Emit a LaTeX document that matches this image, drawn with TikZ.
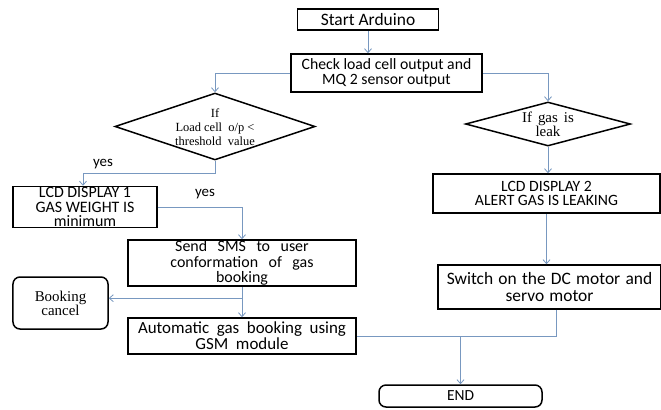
\documentclass[tikz,border=0pt]{standalone}
\usepackage{fontspec}
\setmainfont{Carlito}
\newfontfamily\serifx{Liberation Serif}
\usetikzlibrary{arrows.meta,shapes.geometric,calc}
\definecolor{conncol}{RGB}{120,152,192}
\newcommand\wsA{\spaceskip 0.66em\relax}
\newcommand\wsB{\spaceskip 0.45em\relax}
\newcommand\wsC{\spaceskip 0.3em\relax}
\newcommand\wsD{\spaceskip 0.4em\relax}
\tikzset{
 box/.style={draw, line width=1.5bp, align=center, inner sep=0pt, font=\fontsize{16}{15}\selectfont},
 rbox/.style={box, rounded corners=7bp},
 dia/.style={diamond, draw, line width=1.5bp, inner sep=0pt},
 dtext/.style={align=center, inner sep=0pt, font=\serifx\fontsize{12.5}{14}\selectfont},
 conn/.style={draw=conncol, line width=0.8bp},
 arr/.style={conn, -{Straight Barb[length=4bp,width=7bp]}},
 lbl/.style={inner sep=0pt, font=\fontsize{15}{15}\selectfont},
}
\begin{document}
\begin{tikzpicture}[x=1bp,y=-1bp]
\fill[white] (0,0) rectangle (661,409);
\useasboundingbox (0,0) rectangle (661,409);
\node[box, minimum width=141bp, minimum height=21bp, font=\fontsize{17.5}{16}\selectfont] (start) at (368,19.5) {Start Arduino};
\node[box, minimum width=191bp, minimum height=38bp, font=\fontsize{15.8}{15}\selectfont] (check) at (386.5,73) {Check load cell output and\\MQ 2 sensor output};
\node[dia, minimum width=200bp, minimum height=67bp] (d1) at (215,126.5) {};
\node[dtext] (d1t) at (215,127) {If\\Load cell\ \ o/p <\\threshold\ \ value};
\node[dia, minimum width=165bp, minimum height=44bp] (d2) at (548,124) {};
\node[dtext, font=\serifx\fontsize{15}{14}\selectfont] (d2t) at (548,124) {\wsD If gas is\\leak};
\node[box, minimum width=144bp, minimum height=41bp, font=\fontsize{16}{14.5}\selectfont] (lcd1) at (85,207) {LCD DISPLAY 1\\GAS WEIGHT IS\\minimum};
\node[lbl] (yes1) at (103,164) {yes};
\node[lbl] (yes2) at (205,194) {yes};
\node[box, minimum width=228bp, minimum height=46bp, font=\fontsize{16}{15.5}\selectfont] (sms) at (242,263) {\wsA Send SMS to user\\\wsA conformation of gas\\booking};
\node[rbox, minimum width=95bp, minimum height=52bp, font=\serifx\fontsize{15}{14}\selectfont] (bc) at (60.5,303) {Booking\\cancel};
\node[box, minimum width=228bp, minimum height=36bp, font=\fontsize{17}{16}\selectfont] (auto) at (242,336) {\wsB Automatic gas booking using\\\wsB GSM module};
\node[box, minimum width=227bp, minimum height=39bp, font=\fontsize{15.8}{14.5}\selectfont] (lcd2) at (546.5,193.5) {LCD DISPLAY 2\\ALERT GAS IS LEAKING};
\node[box, minimum width=223bp, minimum height=44bp, font=\fontsize{17.5}{17}\selectfont] (sw) at (549.5,287) {\wsC Switch on the DC motor and\\\wsC servo motor};
\node[rbox, minimum width=163bp, minimum height=22bp, font=\fontsize{15.5}{15}\selectfont] (end) at (460.5,396) {END};
\draw[arr] (start.south) -- (start.south |- check.north);
\draw[arr] (check.west) -| (d1.north);
\draw[arr] (check.east) -| (d2.north);
\draw[arr] (d1.south) -- ++(0,13) -| ([xshift=-2bp]lcd1.north);
\draw[arr] (lcd1.east) -| (sms.north);
\draw[arr] (sms.south) -- (auto.north);
\coordinate (br) at ($(sms.south)!0.375!(auto.north)$);
\draw[arr] (br) -- (br -| bc.east);
\draw[arr] (d2.south) -- (d2.south |- lcd2.north);
\draw[arr] (lcd2.south) -- (lcd2.south |- sw.north);
\coordinate (swout) at ([xshift=6.5bp]sw.south);
\coordinate (join) at (end.north |- auto.east);
\draw[conn] (swout) |- (join);
\draw[arr] (auto.east) -| (end.north);
\end{tikzpicture}
\end{document}
